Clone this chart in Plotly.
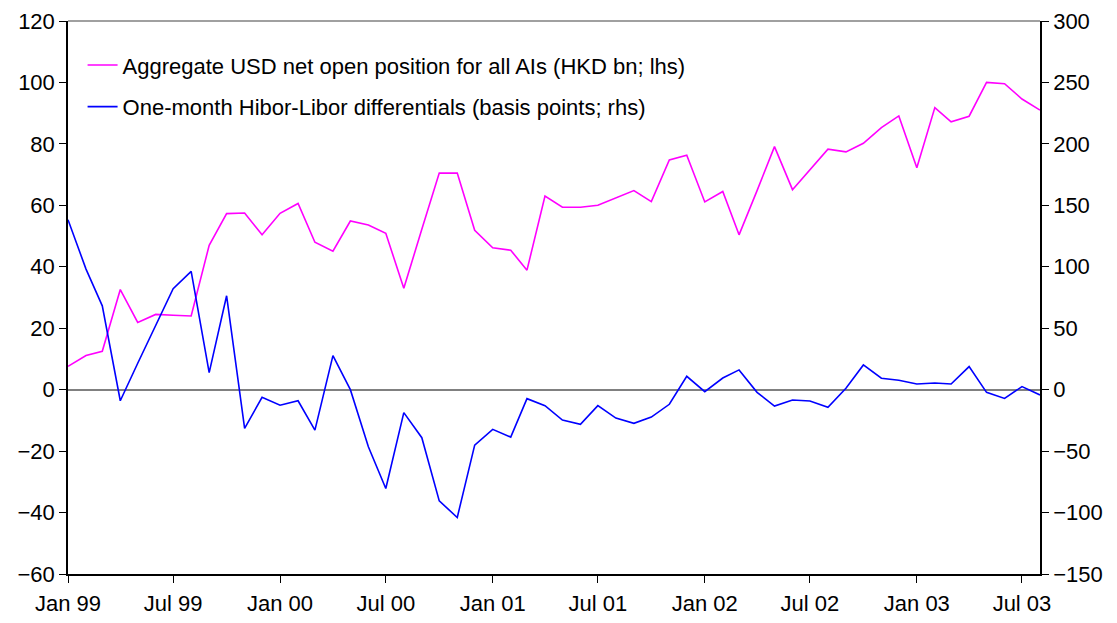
import plotly.graph_objects as go
import pandas as pd

months = pd.date_range("1999-01-01", "2003-08-01", freq="MS")

usd_nop = [7.6, 11.1, 12.5, 32.6, 21.9, 24.5, 24.2, 24.0, 47.0, 57.3,
           57.5, 50.4, 57.4, 60.6, 48.0, 45.1, 54.9, 53.6, 50.9, 33.0,
           52.2, 70.5, 70.5, 51.9, 46.2, 45.4, 38.9, 63.0, 59.4, 59.4,
           60.0, 62.5, 64.8, 61.2, 74.8, 76.3, 61.1, 64.5, 50.4, 64.8,
           79.1, 65.1, 71.7, 78.3, 77.4, 80.2, 85.3, 89.1, 72.2, 91.8,
           87.2, 89.0, 100.0, 99.6, 94.6, 91.0]

hibor_libor = [138.3, 98.1, 68.2, -9.0, 21.5, 51.9, 82.1, 96.2, 13.9, 76.4,
               -31.5, -6.2, -12.7, -9.0, -32.9, 27.7, 0.0, -46.5, -80.4, -18.7,
               -39.1, -90.5, -104.0, -45.1, -32.3, -38.6, -7.3, -13.0, -24.7, -28.2,
               -13.0, -23.1, -27.4, -22.3, -11.9, 10.9, -1.6, 9.5, 16.1, -2.2,
               -13.3, -8.4, -9.2, -14.4, 1.1, 20.1, 9.3, 7.6, 4.6, 5.4,
               4.6, 18.8, -2.2, -7.1, 2.5, -4.3]

name1 = "Aggregate USD net open position for all AIs (HKD bn; lhs)"
name2 = "One-month Hibor-Libor differentials (basis points; rhs)"

FONT = "Liberation Sans, Arial, sans-serif"
FS = 22

fig = go.Figure()
fig.add_trace(go.Scatter(x=months, y=usd_nop, name=name1, mode="lines",
                         legendgroup="a",
                         line=dict(color="#FF00FF", width=1.6), yaxis="y"))
fig.add_trace(go.Scatter(x=months, y=hibor_libor, name=name2, mode="lines",
                         legendgroup="b",
                         line=dict(color="#0000FF", width=1.6), yaxis="y2"))

fig.update_layout(
    width=1101, height=607,
    margin=dict(l=60, r=69, t=13, b=41, autoexpand=False),
    paper_bgcolor="white", plot_bgcolor="white",
    font=dict(family=FONT, size=FS, color="black"),
    showlegend=True,
    legend=dict(x=0.015, y=0.958, xanchor="left", yanchor="top",
                bgcolor="rgba(0,0,0,0)", font=dict(size=FS, color="black"),
                traceorder="grouped", tracegroupgap=10, itemwidth=30),
    xaxis=dict(
        type="date", range=["1999-01-01", "2003-08-01"],
        tick0="1999-01-01", dtick="M6", tickformat="%b %y",
        ticks="outside", ticklen=7, tickcolor="black", tickwidth=1,
        showline=True, linecolor="black", linewidth=1.5,
        showgrid=False, zeroline=False, automargin=False,
        tickfont=dict(size=FS), ticklabelstandoff=2,
    ),
    xaxis2=dict(
        type="date", overlaying="x", matches="x", anchor="free", position=1/3,
        tick0="1999-01-01", dtick="M1", ticks="outside", ticklen=3,
        tickcolor="#808080", showticklabels=False, showline=False,
        showgrid=False, zeroline=False, automargin=False,
    ),
    yaxis=dict(
        range=[-60, 120], dtick=20, ticks="outside", ticklen=7,
        tickcolor="black", showline=True, linecolor="black", linewidth=1.5,
        showgrid=False, zeroline=True, zerolinecolor="#808080", zerolinewidth=1.5,
        tickfont=dict(size=FS), automargin=False,
    ),
    yaxis2=dict(
        range=[-150, 300], dtick=50, overlaying="y", side="right",
        ticks="outside", ticklen=7, tickcolor="black", showline=True,
        linecolor="black", linewidth=1.5, showgrid=False, zeroline=False,
        tickfont=dict(size=FS), automargin=False,
    ),
    shapes=[dict(type="line", xref="paper", yref="paper", x0=0, x1=1, y0=1, y1=1,
                 line=dict(color="#808080", width=1.5))],
)

fig.write_html("out.html")
